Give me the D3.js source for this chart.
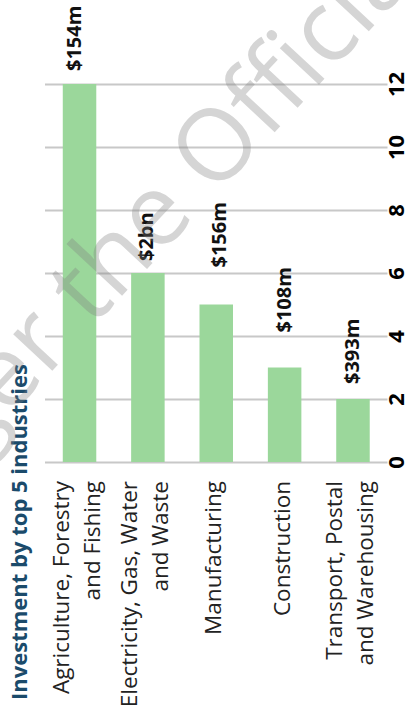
<!DOCTYPE html>
<html><head><meta charset="utf-8">
<script src="https://cdn.jsdelivr.net/npm/d3@7"></script>
<style>
body{margin:0;background:#fff}
svg{display:block;font-family:"Open Sans",sans-serif;background:#fff}
</style>
</head><body><svg id="c" width="410" height="721"></svg>
<script>
// ---- data ----
const title = "Investment by top 5 industries";
const categories = [
  ["Agriculture, Forestry", "and Fishing"],
  ["Electricity, Gas, Water", "and Waste"],
  ["Manufacturing"],
  ["Construction"],
  ["Transport, Postal", "and Warehousing"]
];
const values = [12, 6, 5, 3, 2];
const valueLabels = ["$154m", "$2bn", "$156m", "$108m", "$393m"];
const tickValues = [0, 2, 4, 6, 8, 10, 12];
const watermark = "No longer the Official Statistics";

// ---- layout ----
const svg = d3.select("#c");
const plotLeft = 45, plotRight = 387.5, plotBase = 462, plotTop = 84;
const labelLift = [13, 12, 37, 35, 15];
const labelShift = [1, 5, 10, 6, 6.5];

const x = d3.scaleBand().domain(d3.range(categories.length))
  .range([plotLeft, plotRight]).paddingInner(0.51).paddingOuter(0.26);
const y = d3.scaleLinear().domain([0, 12]).range([plotBase, plotTop]);

// gridlines + tick labels (axis)
const axis = svg.append("g").attr("transform", `translate(${plotRight},0)`)
  .call(d3.axisRight(y).tickValues(tickValues).tickSize(-(plotRight - plotLeft)).tickFormat(d3.format("d")));
axis.select(".domain").remove();
axis.selectAll(".tick line").attr("stroke", "#c8c8c8").attr("stroke-width", 2);
axis.selectAll(".tick text")
  .attr("transform", "rotate(-90)")
  .attr("x", 0).attr("y", 16.5).attr("dy", null)
  .attr("text-anchor", "middle")
  .attr("font-family", "'Open Sans', sans-serif")
  .attr("font-size", 22).attr("font-weight", 700).attr("fill", "#000");

// bars
svg.append("g").selectAll("rect").data(values).join("rect")
  .attr("x", (d, i) => x(i))
  .attr("width", x.bandwidth())
  .attr("y", d => y(d))
  .attr("height", d => y(0) - y(d))
  .attr("fill", "#9bd79b");

// value labels
svg.append("g").selectAll("text").data(valueLabels).join("text")
  .attr("transform", (d, i) =>
    `translate(${x(i) + x.bandwidth() / 2 + labelShift[i]},${y(values[i]) - labelLift[i]}) rotate(-90)`)
  .attr("text-anchor", "start")
  .attr("font-size", 20).attr("font-weight", 700).attr("fill", "#111")
  .text(d => d);

// category labels
const cat = svg.append("g").selectAll("g").data(categories).join("g")
  .attr("transform", (d, i) => `translate(${x(i) + x.bandwidth() / 2},481) rotate(-90)`);
cat.each(function(lines) {
  const t = d3.select(this).append("text")
    .attr("text-anchor", "end").attr("font-size", 22.5).attr("fill", "#222");
  lines.forEach((ln, k) => {
    t.append("tspan").attr("x", 0)
      .attr("y", 5 + (k - (lines.length - 1) / 2) * 31)
      .text(ln);
  });
});

// title
svg.append("text")
  .attr("transform", "translate(27,700) rotate(-90)")
  .attr("text-anchor", "start")
  .attr("font-size", 22).attr("font-weight", 700).attr("fill", "#1b4b6b")
  .text(title);

// watermark
const wm = svg.append("g").attr("transform", "translate(92,328) rotate(-47)")
  .attr("pointer-events", "none");
const wt = wm.append("text").attr("font-size", 100).attr("fill", "#808080")
  .attr("fill-opacity", 0.33).text(watermark);
const off = wt.node().getSubStringLength(0, watermark.indexOf("the"));
wt.attr("x", -off);
</script>
</body></html>
